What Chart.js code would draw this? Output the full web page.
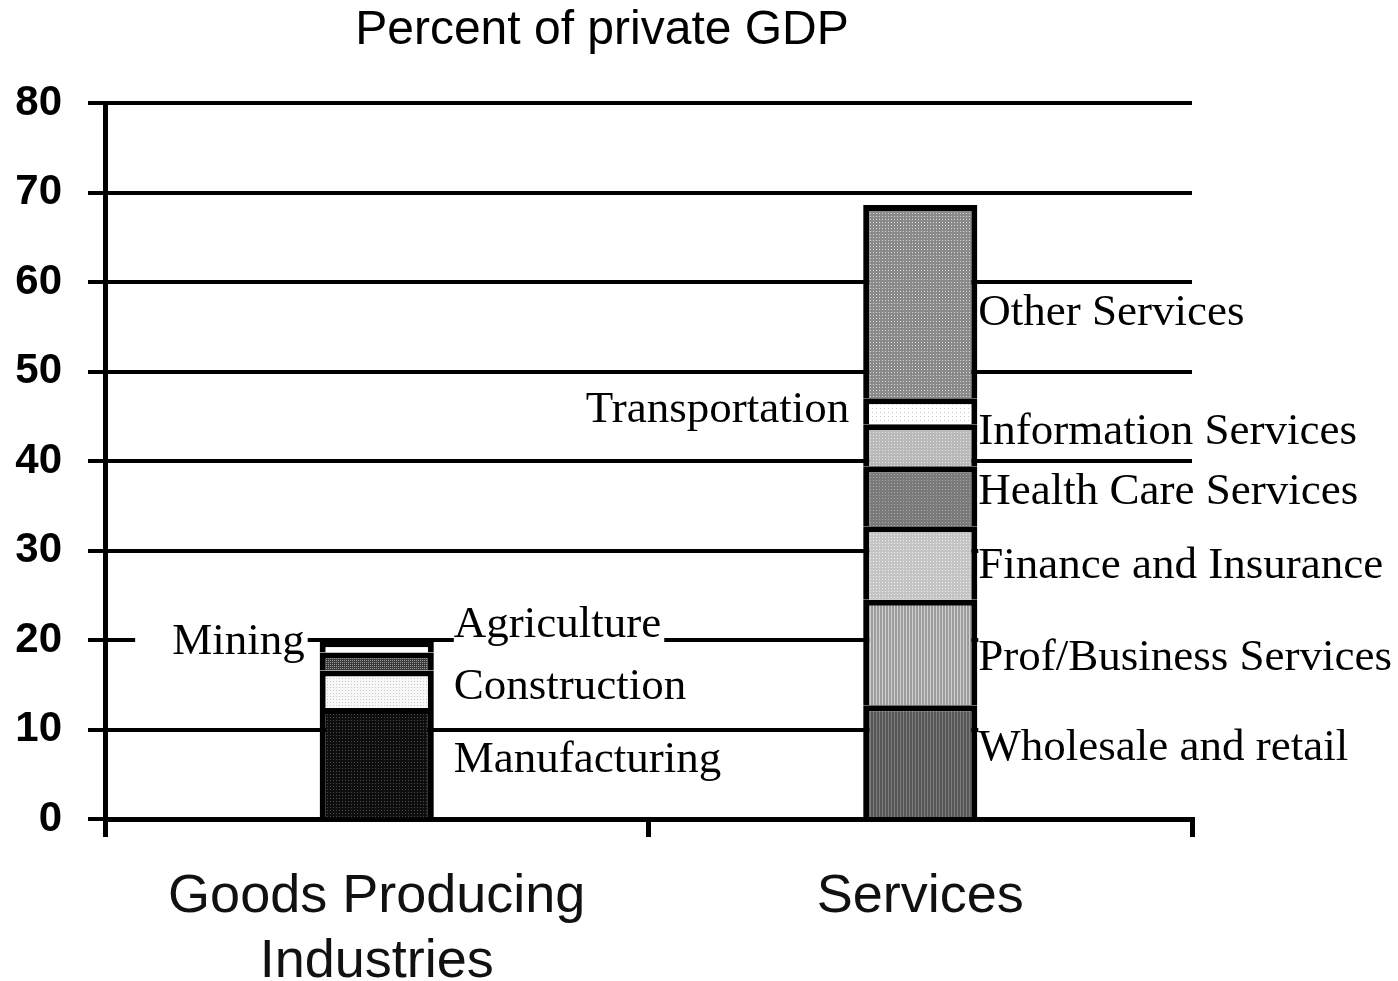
<!DOCTYPE html>
<html>
<head>
<meta charset="utf-8">
<title>Percent of private GDP</title>
<script src="https://cdn.jsdelivr.net/npm/chart.js@4.4.1/dist/chart.umd.min.js"></script>
<style>
  html, body { margin: 0; padding: 0; background: #fff; }
  canvas { display: block; }
</style>
</head>
<body>
<canvas id="gdp" width="1398" height="981"></canvas>
<script>
// categories on the x axis
const categories = [['Goods Producing', 'Industries'], 'Services'];

// goods producing industries, stacked from the bottom up
const goodsNames = ['Manufacturing', 'Construction', 'Mining', 'Agriculture'];
const goodsValues = [12.4, 4.2, 2.0, 1.2];

// services, stacked from the bottom up
const serviceNames = ['Wholesale and retail', 'Prof/Business Services', 'Finance and Insurance',
  'Health Care Services', 'Information Services', 'Transportation', 'Other Services'];
const serviceValues = [12.7, 11.8, 8.2, 6.7, 4.7, 2.9, 21.6];

// y axis ticks
const yTicks = [0, 10, 20, 30, 40, 50, 60, 70, 80];

const canvas = document.getElementById('gdp');
const ctx = canvas.getContext('2d');

// small dotted / striped fills, like the old print shading
function shade(bg, fg, step, kind) {
  const c = document.createElement('canvas');
  c.width = step; c.height = step;
  const g = c.getContext('2d');
  g.fillStyle = bg;
  g.fillRect(0, 0, step, step);
  g.fillStyle = fg;
  if (kind === 'stripe') g.fillRect(0, 0, 1, step);
  else g.fillRect(0, 0, 1, 1);
  return ctx.createPattern(c, 'repeat');
}

const goodsFills = [
  shade('#0e0e0e', '#4a4a4a', 3),
  shade('#f8f8f8', '#c8c8c8', 3),
  shade('#3a3a3a', '#9a9a9a', 2),
  '#ffffff'
];
const serviceFills = [
  shade('#575757', '#7c7c7c', 3, 'stripe'),
  shade('#9c9c9c', '#d0d0d0', 3, 'stripe'),
  shade('#c4c4c4', '#efefef', 3),
  shade('#7a7a7a', '#a8a8a8', 3),
  shade('#b9b9b9', '#e2e2e2', 3),
  shade('#ffffff', '#c8c8c8', 4),
  shade('#8a8a8a', '#d6d6d6', 3)
];

const datasets = [];
goodsNames.forEach((name, i) => {
  datasets.push({ label: name, data: [goodsValues[i], null], backgroundColor: goodsFills[i] });
});
serviceNames.forEach((name, i) => {
  datasets.push({ label: name, data: [null, serviceValues[i]], backgroundColor: serviceFills[i] });
});

// where each segment name is written: dataset, side of the bar, height in axis units
const segmentLabels = [
  { ds: 0, cat: 0, side: 'right', at: 6.6, gap: 20 },
  { ds: 1, cat: 0, side: 'right', at: 14.7, gap: 20 },
  { ds: 2, cat: 0, side: 'left', at: 19.7, gap: 15, padL: 37 },
  { ds: 3, cat: 0, side: 'right', at: 21.7, gap: 20 },
  { ds: 4, cat: 1, side: 'right', at: 7.9, gap: 1 },
  { ds: 5, cat: 1, side: 'right', at: 18.0, gap: 1 },
  { ds: 6, cat: 1, side: 'right', at: 28.2, gap: 1 },
  { ds: 7, cat: 1, side: 'right', at: 36.5, gap: 1 },
  { ds: 8, cat: 1, side: 'right', at: 43.2, gap: 1 },
  { ds: 9, cat: 1, side: 'left', at: 45.7, gap: 14 },
  { ds: 10, cat: 1, side: 'right', at: 56.5, gap: 1 }
];

const segmentLabelPlugin = {
  id: 'segmentLabels',
  afterDatasetsDraw(chart) {
    const c = chart.ctx;
    const y = chart.scales.y;
    c.save();
    c.font = '45px "Liberation Serif", "Times New Roman", serif';
    c.textBaseline = 'middle';
    segmentLabels.forEach(l => {
      const bar = chart.getDatasetMeta(l.ds).data[l.cat];
      const text = chart.data.datasets[l.ds].label;
      const w = c.measureText(text).width;
      const py = y.getPixelForValue(l.at);
      const x0 = l.side === 'right' ? bar.x + bar.width / 2 + l.gap : bar.x - bar.width / 2 - l.gap - w;
      const padL = l.padL || 0;
      // white box behind the name so grid lines stop at the text
      c.fillStyle = '#fff';
      c.fillRect(x0 - padL, py - 24, w + padL + 3, 48);
      c.fillStyle = '#000';
      c.textAlign = 'left';
      c.fillText(text, x0, py);
    });
    c.restore();
  }
};

const titlePlugin = {
  id: 'topTitle',
  afterDraw(chart) {
    const c = chart.ctx;
    c.save();
    c.font = '48px "Liberation Sans", Arial, sans-serif';
    c.fillStyle = '#000';
    c.textAlign = 'center';
    c.textBaseline = 'middle';
    c.fillText('Percent of private GDP', chart.chartArea.left + 497, 31);
    c.restore();
  }
};

new Chart(ctx, {
  type: 'bar',
  data: { labels: categories, datasets: datasets },
  options: {
    responsive: false,
    animation: false,
    layout: { padding: { top: 103, right: 206, left: 0, bottom: 0 } },
    datasets: {
      bar: {
        borderColor: '#000',
        borderWidth: 6,
        categoryPercentage: 1,
        barPercentage: 0.21
      }
    },
    plugins: {
      legend: { display: false },
      tooltip: { enabled: false },
      title: { display: false }
    },
    scales: {
      x: {
        stacked: true,
        afterFit(scale) { scale.height = 162; },
        border: { display: true, color: '#000', width: 5 },
        grid: {
          offset: true,
          drawOnChartArea: false,
          drawTicks: true,
          tickLength: 18,
          color: '#000',
          lineWidth: 5
        },
        ticks: {
          color: '#111',
          padding: 28,
          maxRotation: 0,
          font: { family: '"Liberation Sans", Arial, sans-serif', size: 54, lineHeight: 1.2 }
        }
      },
      y: {
        stacked: true,
        min: 0,
        max: 80,
        afterFit(scale) { scale.width = 105; },
        afterBuildTicks(scale) { scale.ticks = yTicks.map(v => ({ value: v })); },
        border: { display: true, color: '#000', width: 5 },
        grid: {
          color: '#000',
          lineWidth: 4,
          drawTicks: true,
          tickLength: 17
        },
        ticks: {
          color: '#000',
          padding: 26,
          font: { family: '"Liberation Sans", Arial, sans-serif', size: 42, weight: 'bold' }
        }
      }
    }
  },
  plugins: [segmentLabelPlugin, titlePlugin]
});
</script>
</body>
</html>
